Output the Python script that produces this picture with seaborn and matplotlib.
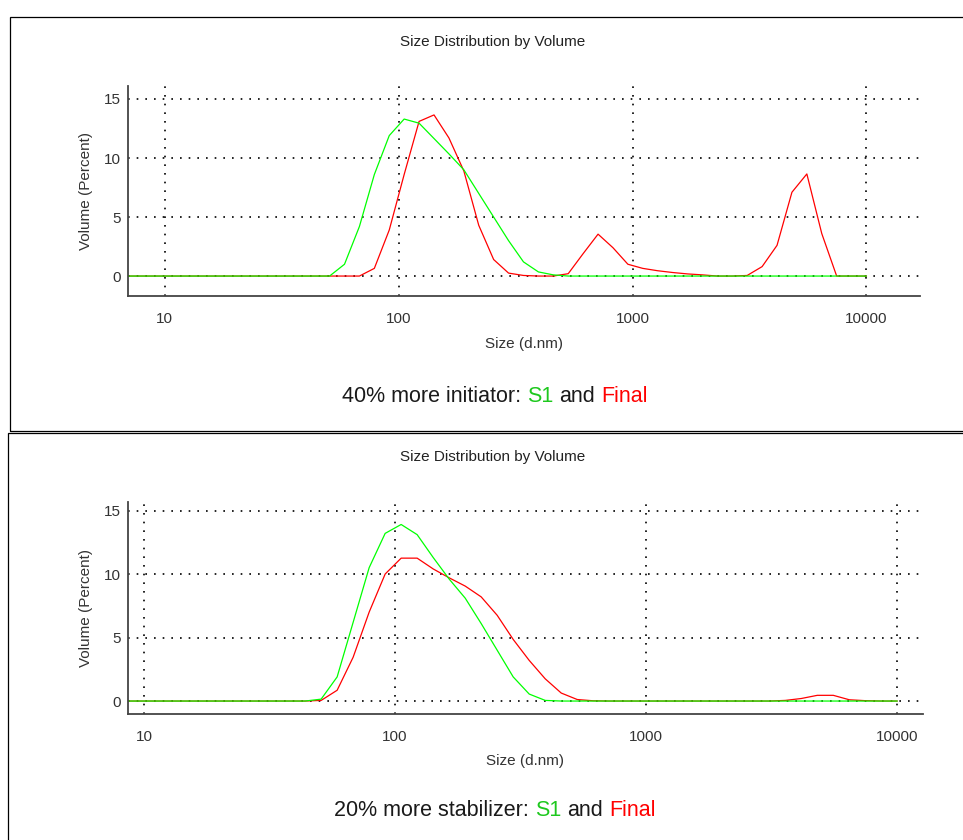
import matplotlib
matplotlib.use("Agg")
import matplotlib.pyplot as plt
from matplotlib.patches import Rectangle
from matplotlib.ticker import FixedLocator, FixedFormatter, LogLocator, NullFormatter
import seaborn as sns

# Size classes (d.nm) of the volume distribution
sizes = [5.61, 6.50, 7.53, 8.72, 10.10, 11.70, 13.55, 15.69, 18.17, 21.04,
         24.36, 28.22, 32.68, 37.84, 43.82, 50.75, 58.77, 68.06, 78.82, 91.28,
         105.7, 122.4, 141.8, 164.2, 190.2, 220.2, 255.0, 295.3, 342.0, 396.1,
         458.7, 531.2, 615.2, 712.5, 825.1, 955.5, 1106, 1281, 1484, 1719,
         1990, 2305, 2669, 3091, 3580, 4146, 4801, 5560, 6439, 7456,
         8635, 10000]

# Volume (%) -- 40% more initiator
initiator_s1 = [0, 0, 0, 0, 0, 0, 0, 0, 0, 0,
                0, 0, 0, 0, 0, 0, 1.0, 4.2, 8.6, 11.9,
                13.3, 12.95, 11.65, 10.35, 9.0, 7.0, 5.0, 3.0, 1.2, 0.35,
                0.1, 0, 0, 0, 0, 0, 0, 0, 0, 0,
                0, 0, 0, 0, 0, 0, 0, 0, 0, 0,
                0, 0]
initiator_final = [0, 0, 0, 0, 0, 0, 0, 0, 0, 0,
                   0, 0, 0, 0, 0, 0, 0, 0, 0.65, 3.9,
                   8.6, 13.1, 13.65, 11.7, 8.9, 4.3, 1.4, 0.25, 0.05, 0,
                   0, 0.2, 1.9, 3.55, 2.4, 1.0, 0.65, 0.45, 0.3, 0.18,
                   0.1, 0, 0, 0.05, 0.8, 2.6, 7.1, 8.65, 3.6, 0,
                   0, 0]

# Volume (%) -- 20% more stabilizer
stabilizer_s1 = [0, 0, 0, 0, 0, 0, 0, 0, 0, 0,
                 0, 0, 0, 0, 0, 0.15, 1.9, 6.2, 10.5, 13.2,
                 13.9, 13.1, 11.3, 9.6, 8.1, 6.1, 4.0, 1.9, 0.55, 0.05,
                 0, 0, 0, 0, 0, 0, 0, 0, 0, 0,
                 0, 0, 0, 0, 0, 0, 0, 0, 0, 0,
                 0, 0]
stabilizer_final = [0, 0, 0, 0, 0, 0, 0, 0, 0, 0,
                    0, 0, 0, 0, 0, 0.05, 0.85, 3.45, 7.0, 10.0,
                    11.25, 11.25, 10.4, 9.7, 9.05, 8.2, 6.75, 4.85, 3.2, 1.75,
                    0.63, 0.12, 0.02, 0, 0, 0, 0, 0, 0, 0,
                    0, 0, 0, 0, 0.05, 0.2, 0.45, 0.45, 0.1, 0.03,
                    0, 0]

x_ticks = [10, 100, 1000, 10000]
x_tick_labels = ["10", "100", "1000", "10000"]
y_ticks = [0, 5, 10, 15]
y_tick_labels = ["0", "5", "10", "15"]
y_minor_ticks = [2.5, 7.5, 12.5]

chart_title = "Size Distribution by Volume"
x_label = "Size (d.nm)"
y_label = "Volume (Percent)"
initiator_caption = "40% more initiator:"
stabilizer_caption = "20% more stabilizer:"

GREEN = "#00FF00"
RED = "#FF0000"
GREEN_TXT = "#1EC81E"
RED_TXT = "#FF0000"

W, H = 963, 840
sns.set_style("white")
plt.rcParams["font.family"] = ["Liberation Sans", "DejaVu Sans"]
fig = plt.figure(figsize=(W / 100, H / 100), dpi=100)
fig.patch.set_facecolor("white")


def fx(px):
    return px / W


def fy(py):
    return 1 - py / H


panels = [
    dict(s1=initiator_s1, final=initiator_final, caption=initiator_caption,
         frame=(10, 17, 1100, 431), box=(128, 86, 920, 296),
         xlim=(6.98, 16930), ylim=(-1.69, 16.1),
         title_y=42, xlabel_y=344, caption_y=397),
    dict(s1=stabilizer_s1, final=stabilizer_final, caption=stabilizer_caption,
         frame=(8, 433, 1100, 900), box=(128, 502, 923, 714),
         xlim=(8.635, 12655), ylim=(-1.02, 15.67),
         title_y=457, xlabel_y=761, caption_y=810),
]

renderer = fig.canvas.get_renderer()
dots = (0, (1, 4.2))

for p in panels:
    x0, y0, x1, y1 = p["frame"]
    fig.add_artist(Rectangle((fx(x0), fy(y1)), fx(x1) - fx(x0), fy(y0) - fy(y1),
                             transform=fig.transFigure, fill=False,
                             ec="black", lw=0.9))

    l, t, r, b = p["box"]
    ax = fig.add_axes([fx(l), fy(b), fx(r) - fx(l), fy(t) - fy(b)])
    ax.set_xscale("log")

    sns.lineplot(x=sizes, y=p["final"], ax=ax, color=RED, linewidth=0.9,
                 estimator=None, sort=False)
    sns.lineplot(x=sizes, y=p["s1"], ax=ax, color=GREEN, linewidth=0.9,
                 estimator=None, sort=False)

    ax.set_xlim(*p["xlim"])
    ax.set_ylim(*p["ylim"])

    ax.xaxis.set_major_locator(FixedLocator(x_ticks))
    ax.xaxis.set_major_formatter(FixedFormatter(x_tick_labels))
    ax.xaxis.set_minor_locator(LogLocator(base=10, subs=[2, 3, 4, 5, 6, 7, 8, 9]))
    ax.xaxis.set_minor_formatter(NullFormatter())
    ax.yaxis.set_major_locator(FixedLocator(y_ticks))
    ax.yaxis.set_major_formatter(FixedFormatter(y_tick_labels))
    ax.yaxis.set_minor_locator(FixedLocator(y_minor_ticks))

    ax.tick_params(axis="x", which="major", direction="inout", length=7,
                   width=1.0, color="#333333", labelsize=11,
                   labelcolor="#333333", pad=8)
    ax.tick_params(axis="x", which="minor", direction="inout", length=4,
                   width=0.8, color="#333333")
    ax.tick_params(axis="y", which="major", direction="out", length=3.5,
                   width=1.0, color="#333333", labelsize=11,
                   labelcolor="#333333", pad=1.5)
    ax.tick_params(axis="y", which="minor", direction="in", length=3.5,
                   width=0.8, color="#333333")

    ax.grid(which="major", axis="both", color="black", linestyle=dots,
            linewidth=1.2)
    ax.set_axisbelow(True)

    for side in ("top", "right"):
        ax.spines[side].set_visible(False)
    for side in ("left", "bottom"):
        ax.spines[side].set_color("#444444")
        ax.spines[side].set_linewidth(1.3)

    ax.set_xlabel(x_label, fontsize=11, color="#333333", va="center")
    ax.xaxis.set_label_coords(0.5, (b - p["xlabel_y"]) / (b - t))
    ax.set_ylabel(y_label, fontsize=11, color="#333333", va="center")
    ax.yaxis.set_label_coords((86 - l) / (r - l), 0.5)

    fig.text(fx(493), fy(p["title_y"]), chart_title, fontsize=11,
             color="#222222", ha="center", va="center")

    # Caption with the series names coloured like their lines
    pieces = [(p["caption"], "#1a1a1a"), ("S1", GREEN_TXT),
              ("and", "#1a1a1a"), ("Final", RED_TXT)]
    full = p["caption"] + " S1 and Final"
    cap_kw = dict(fontsize=15.5, va="center", ha="left")

    def width(s):
        tt = fig.text(0, 0, s, **cap_kw)
        w = tt.get_window_extent(renderer).width
        tt.remove()
        return w

    total = width(full)
    left = 495 - total / 2
    prefix = ""
    for i, (s, c) in enumerate(pieces):
        prefix = s if i == 0 else prefix + " " + s
        xpos = left + width(prefix) - width(s)
        fig.text(fx(xpos), fy(p["caption_y"]), s, color=c, **cap_kw)

fig.savefig("out.png", dpi=100, facecolor="white")
